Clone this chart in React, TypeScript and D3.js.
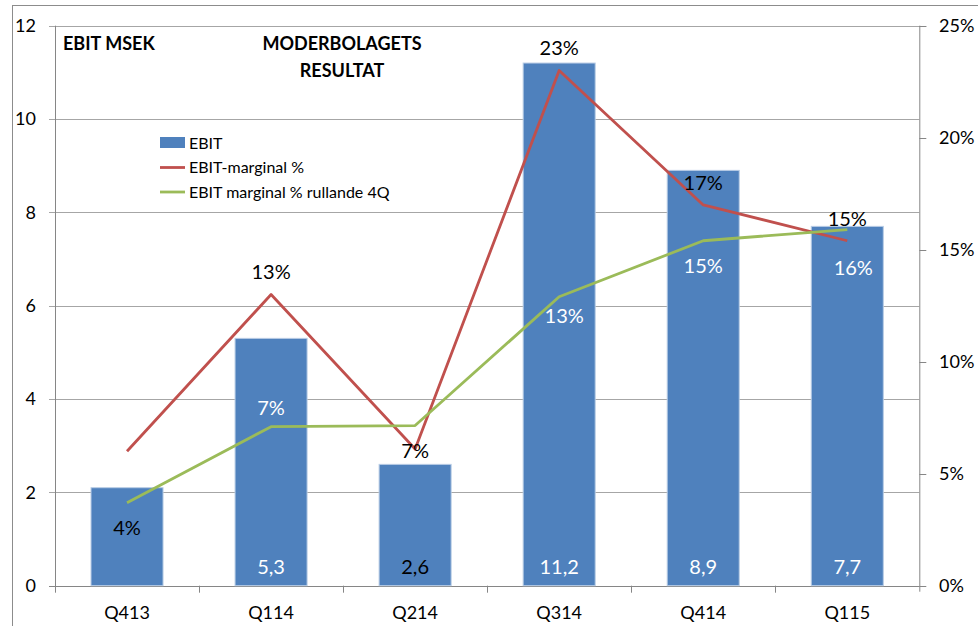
import React from "react";
import * as d3 from "d3";

const categories = ["Q413", "Q114", "Q214", "Q314", "Q414", "Q115"];
const ebit = [2.1, 5.3, 2.6, 11.2, 8.9, 7.7];
const ebitLabels = ["", "5,3", "2,6", "11,2", "8,9", "7,7"];
const marginPct = [6.0, 13.0, 6.1, 23.0, 17.0, 15.4];
const marginLabels = ["", "13%", "", "23%", "17%", "15%"];
const rollingPct = [3.7, 7.1, 7.15, 12.9, 15.4, 15.9];
const rollingLabels = ["4%", "7%", "7%", "13%", "15%", "16%"];
const leftTicks = [0, 2, 4, 6, 8, 10, 12];
const rightTicks = [0, 5, 10, 15, 20, 25];

// layout config (label placement / colours), not data
const ebitLabelColor = ["#fff", "#fff", "#000", "#fff", "#fff", "#fff"];
const marginLabelDy = [0, -23, 0, -23, -22, -22];
const rollingLabelDy = [25, -19, 25, 19, 25, 38];
const rollingLabelDx = [0, 0, 0, 5, 0, 6];
const rollingLabelColor = ["#000", "#fff", "#000", "#fff", "#fff", "#fff"];

const W = 978;
const H = 626;
const L = 55;
const R = 919.3;
const T = 25.7;
const B = 585.7;

const FONT = "Lato, 'Open Sans', sans-serif";

export default function App() {
  const x = d3.scaleBand<string>().domain(categories).range([L, R]).paddingInner(0.5).paddingOuter(0.25);
  const xc = (c: string) => (x(c) as number) + x.bandwidth() / 2;
  const y = d3.scaleLinear().domain([0, 12]).range([B, T]);
  const y2 = d3.scaleLinear().domain([0, 25]).range([B, T]);
  const step = (R - L) / categories.length;

  const line = d3.line<number>().x((_, i) => xc(categories[i])).y((d) => y2(d));

  return (
    <svg width={W} height={H} style={{ position: "absolute", left: 0, top: 0, background: "#fff" }}>
      <rect x={12.5} y={5.5} width={W} height={H} fill="#fff" stroke="#8c8c8c" strokeWidth={1} />
      {/* gridlines */}
      {leftTicks.map((t) => (
        <line key={"g" + t} x1={L - 6} x2={t === 12 ? R + 7 : R} y1={Math.round(y(t)) + 0.5} y2={Math.round(y(t)) + 0.5} stroke={t === 0 ? "#868686" : "#a6a6a6"} strokeWidth={1} />
      ))}
      {/* bars */}
      {ebit.map((v, i) => (
        <rect key={"b" + i} x={x(categories[i])} y={y(v)} width={x.bandwidth()} height={B - y(v)} fill="#4F81BD" stroke="#B9CDE5" strokeWidth={1} />
      ))}
      {/* axes */}
      <line x1={L + 0.5} x2={L + 0.5} y1={T} y2={B + 6} stroke="#868686" />
      <line x1={R + 0.5} x2={R + 0.5} y1={T} y2={B + 6} stroke="#868686" />
      {categories.map((c, i) => (
        <line key={"xt" + i} x1={Math.round(L + step * i) + 0.5} x2={Math.round(L + step * i) + 0.5} y1={B} y2={B + 7} stroke="#868686" />
      ))}
      {rightTicks.map((t) => (
        <line key={"rt" + t} x1={R} x2={R + 7} y1={Math.round(y2(t)) + 0.5} y2={Math.round(y2(t)) + 0.5} stroke="#868686" />
      ))}
      {leftTicks.map((t) => (
        <text key={"lt" + t} x={36} y={y(t)} dy="0.35em" textAnchor="end" fontFamily={FONT} fontSize={18} fill="#000">
          {t}
        </text>
      ))}
      {rightTicks.map((t) => (
        <text key={"rl" + t} x={939} y={y2(t)} dy="0.35em" textAnchor="start" fontFamily={FONT} fontSize={18} fill="#000">
          {t + "%"}
        </text>
      ))}
      {categories.map((c) => (
        <text key={"cl" + c} x={xc(c)} y={613} dy="0.35em" textAnchor="middle" fontFamily={FONT} fontSize={18} fill="#000">
          {c}
        </text>
      ))}
      {/* lines */}
      <path d={line(marginPct) || ""} fill="none" stroke="#C0504D" strokeWidth={2.8} strokeLinejoin="round" />
      <path d={line(rollingPct) || ""} fill="none" stroke="#9BBB59" strokeWidth={2.8} strokeLinejoin="round" />
      {/* value labels */}
      {ebitLabels.map((s, i) => (
        <text key={"vl" + i} x={xc(categories[i])} y={567} dy="0.35em" textAnchor="middle" fontFamily={FONT} fontSize={20} fill={ebitLabelColor[i]}>
          {s}
        </text>
      ))}
      {marginLabels.map((s, i) => (
        <text key={"ml" + i} x={xc(categories[i])} y={y2(marginPct[i]) + marginLabelDy[i]} dy="0.35em" textAnchor="middle" fontFamily={FONT} fontSize={20} fill="#000">
          {s}
        </text>
      ))}
      {rollingLabels.map((s, i) => (
        <text key={"rl2" + i} x={xc(categories[i]) + rollingLabelDx[i]} y={y2(rollingPct[i]) + rollingLabelDy[i]} dy="0.35em" textAnchor="middle" fontFamily={FONT} fontSize={20} fill={rollingLabelColor[i]}>
          {s}
        </text>
      ))}
      {/* titles */}
      <text x={63} y={44} dy="0.35em" fontFamily={FONT} fontSize={18} fontWeight="bold" fill="#000">EBIT MSEK</text>
      <text x={342} y={44} dy="0.35em" textAnchor="middle" fontFamily={FONT} fontSize={18} fontWeight="bold" fill="#000">MODERBOLAGETS</text>
      <text x={342} y={71} dy="0.35em" textAnchor="middle" fontFamily={FONT} fontSize={18} fontWeight="bold" fill="#000">RESULTAT</text>
      {/* legend */}
      <rect x={160} y={137} width={25} height={11} fill="#4F81BD" />
      <text x={189} y={143} dy="0.35em" fontFamily={FONT} fontSize={16} fill="#000">EBIT</text>
      <line x1={160} x2={185} y1={167.5} y2={167.5} stroke="#C0504D" strokeWidth={2.8} />
      <text x={189} y={167} dy="0.35em" fontFamily={FONT} fontSize={16} fill="#000">EBIT-marginal %</text>
      <line x1={160} x2={185} y1={192} y2={192} stroke="#9BBB59" strokeWidth={2.8} />
      <text x={189} y={192} dy="0.35em" fontFamily={FONT} fontSize={16} fill="#000">EBIT marginal % rullande 4Q</text>
    </svg>
  );
}
